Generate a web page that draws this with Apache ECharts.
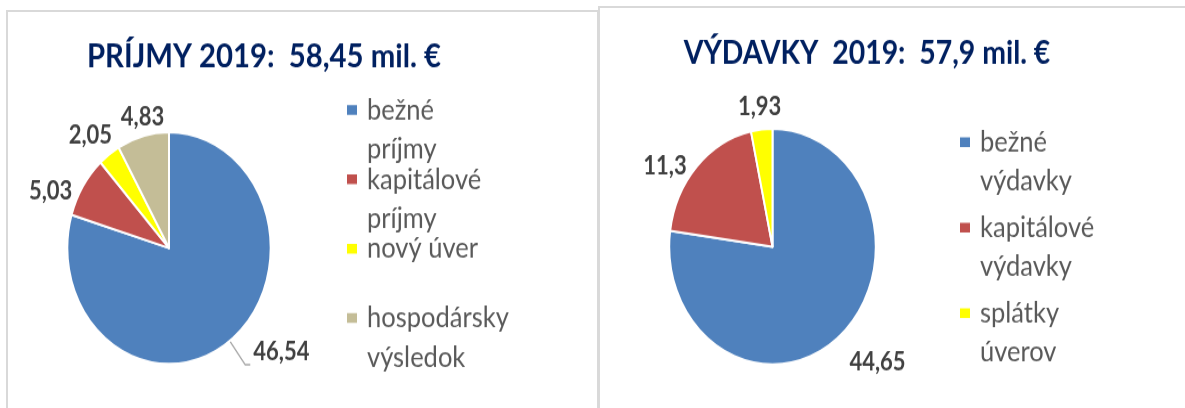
<!DOCTYPE html>
<html>
<head>
<meta charset="utf-8">
<script src="https://cdn.jsdelivr.net/npm/echarts@6/dist/echarts.min.js"></script>
<style>
  body { margin: 0; background: #fff; }
  .panel { position: absolute; border: 2px solid #d9d9d9; box-sizing: border-box; }
  /* the reference picture is stretched vertically, so the chart is too */
  #main { position: absolute; left: 0; top: 0; width: 1185px; height: 358px;
          transform: scaleY(1.1397); transform-origin: 0 0; }
</style>
</head>
<body>
<div class="panel" style="left:6px;top:10px;width:593px;height:420px;"></div>
<div class="panel" style="left:598px;top:6px;width:600px;height:420px;"></div>
<div id="main"></div>
<script>
// príjmy
const incomeNames = ['bežné príjmy', 'kapitálové príjmy', 'nový úver', 'hospodársky výsledok'];
const incomeValues = [46.54, 5.03, 2.05, 4.83];
// výdavky
const expenseNames = ['bežné výdavky', 'kapitálové výdavky', 'splátky úverov'];
const expenseValues = [44.65, 11.3, 1.93];

const incomeColors = ['#4F81BD', '#C0504D', '#FFFF00', '#C4BD97'];
const expenseColors = ['#4F81BD', '#C0504D', '#FFFF00'];

// [length, length2] of the (mostly hidden) label lines, per slice
const incomeLabelLines = [[26, 5], [-8, 39], [20, 7], [17, -4]];
const expenseLabelLines = [[32, 16], [1, 31], [20, 0]];

const FONT = 'Lato';
const LINE_H = 34.5;

function pieData(names, values, lines, withLine) {
    return values.map((v, i) => ({
        name: names[i],
        value: v,
        label: { distanceToLabelLine: withLine[i] ? 3 : 0 },
        labelLine: { show: !!withLine[i], length: lines[i][0], length2: lines[i][1] }
    }));
}

// legend items are two text lines high, the square sits next to the first line
function legend(names, left, top, gap) {
    return {
        data: names,
        orient: 'vertical',
        left: left,
        top: top,
        itemGap: gap,
        itemWidth: 20,
        itemHeight: 2 * LINE_H,
        icon: 'path://M0,0M20,69M4,12H16V22.5H4Z',
        selectedMode: false,
        formatter: n => n.length > 10 ? n.replace(' ', '\n') : n + '\n ',
        textStyle: { fontFamily: FONT, fontSize: 25.5, color: '#595959', lineHeight: LINE_H }
    };
}

const labelStyle = {
    show: true,
    position: 'outside',
    fontFamily: FONT,
    fontSize: 22,
    fontWeight: 'bold',
    color: '#404040',
    formatter: p => String(p.value).replace('.', ',')
};

const titleStyle = { fontFamily: FONT, fontSize: 29.3, fontWeight: 'bold', color: '#002060' };

let myChart = echarts.init(document.getElementById('main'));
myChart.setOption({
    animation: false,
    title: [
        { text: 'PRÍJMY 2019:  58,45 mil. €', left: 259, top: 30.5, textAlign: 'center', textStyle: titleStyle },
        { text: 'VÝDAVKY  2019:  57,9 mil. €', left: 862, top: 28, textAlign: 'center',
          textStyle: Object.assign({}, titleStyle, { fontSize: 28.4 }) }
    ],
    legend: [
        legend(incomeNames, 336, 73.3, -10.2),
        legend(expenseNames, 949, 101.5, 4)
    ],
    series: [
        {
            type: 'pie',
            center: [169, 217.6],
            radius: 101.7,
            color: incomeColors,
            avoidLabelOverlap: false,
            itemStyle: { borderColor: '#fff', borderWidth: 2 },
            label: labelStyle,
            labelLine: { lineStyle: { color: '#A6A6A6', width: 1.3 } },
            labelLayout: p => p.dataIndex === 0 ? { verticalAlign: 'bottom' } : { align: 'center' },
            data: pieData(incomeNames, incomeValues, incomeLabelLines, [true, false, false, false])
        },
        {
            type: 'pie',
            center: [772.5, 216.4],
            radius: 103.3,
            color: expenseColors,
            avoidLabelOverlap: false,
            itemStyle: { borderColor: '#fff', borderWidth: 2 },
            label: labelStyle,
            labelLayout: () => ({ align: 'center' }),
            data: pieData(expenseNames, expenseValues, expenseLabelLines, [false, false, false])
        }
    ]
});
</script>
</body>
</html>
